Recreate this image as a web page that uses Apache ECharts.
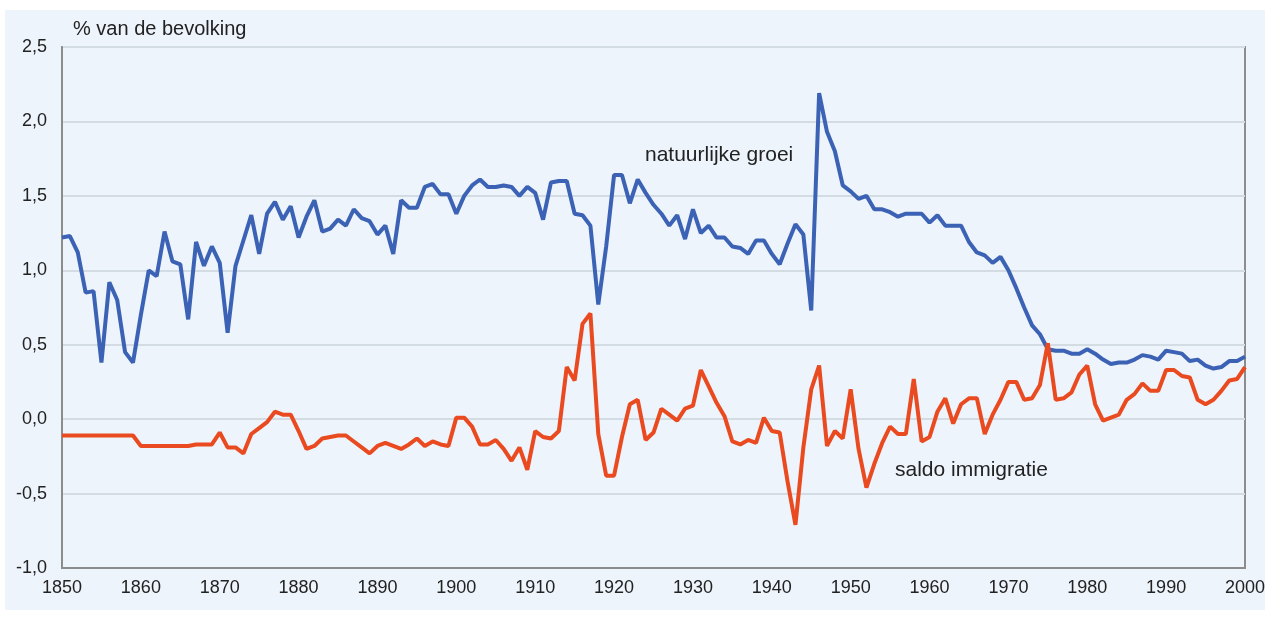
<!DOCTYPE html>
<html>
<head>
<meta charset="utf-8">
<script src="https://cdn.jsdelivr.net/npm/echarts@6/dist/echarts.min.js"></script>
<style>
html,body{margin:0;padding:0;background:#ffffff;}
#chart{width:1270px;height:617px;}
</style>
</head>
<body>
<div id="chart"></div>
<script>
var years = [];
for (var y = 1850; y <= 2000; y++) years.push(y);

var natuurlijkeGroei = [
1.22,1.23,1.12,0.85,0.86,0.38,0.92,0.80,0.45,0.38,
0.70,1.00,0.96,1.26,1.06,1.04,0.67,1.19,1.03,1.16,
1.05,0.58,1.03,1.20,1.37,1.11,1.38,1.46,1.34,1.43,
1.22,1.36,1.47,1.26,1.28,1.34,1.30,1.41,1.35,1.33,
1.24,1.30,1.11,1.47,1.42,1.42,1.56,1.58,1.51,1.51,
1.38,1.50,1.57,1.61,1.56,1.56,1.57,1.56,1.50,1.56,
1.52,1.34,1.59,1.60,1.60,1.38,1.37,1.30,0.77,1.16,
1.64,1.64,1.45,1.61,1.52,1.44,1.38,1.30,1.37,1.21,
1.41,1.25,1.30,1.22,1.22,1.16,1.15,1.11,1.20,1.20,
1.11,1.04,1.18,1.31,1.24,0.73,2.19,1.93,1.80,1.57,
1.53,1.48,1.50,1.41,1.41,1.39,1.36,1.38,1.38,1.38,
1.32,1.37,1.30,1.30,1.30,1.19,1.12,1.10,1.05,1.09,
1.00,0.88,0.75,0.63,0.57,0.47,0.46,0.46,0.44,0.44,
0.47,0.44,0.40,0.37,0.38,0.38,0.40,0.43,0.42,0.40,
0.46,0.45,0.44,0.39,0.40,0.36,0.34,0.35,0.39,0.39,
0.42
];

var saldoImmigratie = [
-0.11,-0.11,-0.11,-0.11,-0.11,-0.11,-0.11,-0.11,-0.11,-0.11,
-0.18,-0.18,-0.18,-0.18,-0.18,-0.18,-0.18,-0.17,-0.17,-0.17,
-0.09,-0.19,-0.19,-0.23,-0.10,-0.06,-0.02,0.05,0.03,0.03,
-0.08,-0.20,-0.18,-0.13,-0.12,-0.11,-0.11,-0.15,-0.19,-0.23,
-0.18,-0.16,-0.18,-0.20,-0.17,-0.13,-0.18,-0.15,-0.17,-0.18,
0.01,0.01,-0.05,-0.17,-0.17,-0.14,-0.20,-0.28,-0.19,-0.34,
-0.08,-0.12,-0.13,-0.08,0.35,0.26,0.64,0.71,-0.10,-0.38,
-0.38,-0.12,0.10,0.13,-0.14,-0.09,0.07,0.03,-0.01,0.07,
0.09,0.33,0.22,0.11,0.02,-0.15,-0.17,-0.14,-0.16,0.01,
-0.08,-0.09,-0.42,-0.71,-0.19,0.20,0.36,-0.18,-0.08,-0.13,
0.20,-0.20,-0.46,-0.30,-0.16,-0.05,-0.10,-0.10,0.27,-0.15,
-0.12,0.05,0.14,-0.03,0.10,0.14,0.14,-0.10,0.03,0.13,
0.25,0.25,0.13,0.14,0.23,0.51,0.13,0.14,0.18,0.30,
0.36,0.10,-0.01,0.01,0.03,0.13,0.17,0.24,0.19,0.19,
0.33,0.33,0.29,0.28,0.13,0.10,0.13,0.19,0.26,0.27,
0.35
];

var xTicks = [1850,1860,1870,1880,1890,1900,1910,1920,1930,1940,1950,1960,1970,1980,1990,2000];
var yTicks = [-1.0,-0.5,0.0,0.5,1.0,1.5,2.0,2.5];
var yTitle = '% van de bevolking';
var labelGroei = 'natuurlijke groei';
var labelSaldo = 'saldo immigratie';

function pairs(vals){ return years.map(function(yr,i){ return [yr, vals[i]]; }); }

var chart = echarts.init(document.getElementById('chart'), null, {renderer:'canvas'});
var font = '"Liberation Sans", Arial, Helvetica, sans-serif';
chart.setOption({
  backgroundColor: '#ffffff',
  animation: false,
  graphic: [
    {type:'rect', z:-10, shape:{x:5,y:10,width:1260,height:600}, style:{fill:'#edf4fb'}},
    {type:'text', left:73, top:19, style:{text:yTitle, fill:'#222', font:'20px '+font}},
    {type:'text', left:645, top:145, style:{text:labelGroei, fill:'#222', font:'21px '+font}},
    {type:'text', left:895, top:460, style:{text:labelSaldo, fill:'#222', font:'21px '+font}}
  ],
  grid: {left:62, right:25, top:47, bottom:49, show:true, borderColor:'#8c8c8c', borderWidth:2, backgroundColor:'transparent'},
  xAxis: {
    type:'value', min:1850, max:2000, interval:10,
    axisLine:{show:true, onZero:false, lineStyle:{color:'#8c8c8c', width:2}},
    axisTick:{show:false},
    splitLine:{show:false},
    axisLabel:{color:'#222', fontSize:18, fontFamily:font, margin:11,
      formatter:function(v){ return xTicks.indexOf(v)>=0 ? String(v) : ''; }}
  },
  yAxis: {
    type:'value', min:-1, max:2.5, interval:0.5,
    axisLine:{show:true, onZero:false, lineStyle:{color:'#8c8c8c', width:2}},
    axisTick:{show:false},
    splitLine:{show:true, lineStyle:{color:'#d3dbe3', width:2}},
    axisLabel:{color:'#222', fontSize:18, fontFamily:font, margin:15,
      formatter:function(v){
        var t = yTicks.filter(function(k){return Math.abs(k-v)<1e-9;});
        return t.length ? t[0].toFixed(1).replace('.', ',') : '';
      }}
  },
  series: [
    {type:'line', data:pairs(natuurlijkeGroei), showSymbol:false, lineStyle:{color:'#3b62b4', width:4}, itemStyle:{color:'#3b62b4'}, z:3},
    {type:'line', data:pairs(saldoImmigratie), showSymbol:false, lineStyle:{color:'#ea4a1f', width:4}, itemStyle:{color:'#ea4a1f'}, z:4}
  ]
});
</script>
</body>
</html>
